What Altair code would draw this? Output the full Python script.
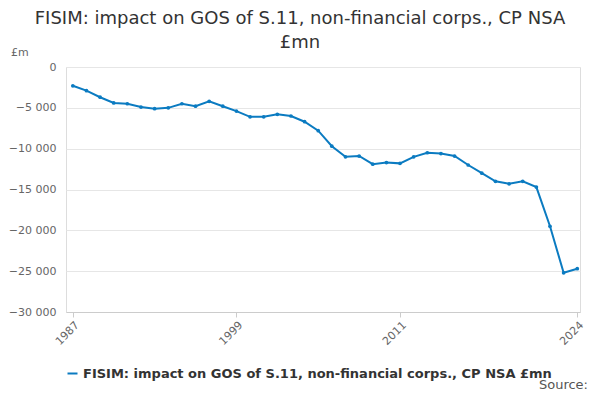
import altair as alt
import pandas as pd

years = list(range(1987, 2025))
values = [-2300, -2900, -3700, -4400, -4500, -4900, -5100, -5000, -4500, -4800,
          -4200, -4800, -5400, -6100, -6100, -5800, -6000, -6700, -7800, -9700,
          -11000, -10900, -11900, -11700, -11800, -11000, -10500, -10600, -10900, -12000,
          -13000, -14000, -14300, -14000, -14700, -19500, -25200, -24700]
series = "FISIM: impact on GOS of S.11, non-financial corps., CP NSA £mn"
title_lines = ["FISIM: impact on GOS of S.11, non-financial corps., CP NSA", "£mn"]
df = pd.DataFrame({"year": years, "value": values, "series": series})

base = alt.Chart(df)
line = base.mark_line(strokeWidth=2, point=alt.OverlayMarkDef(size=14, filled=True)).encode(
    x=alt.X("year:Q", scale=alt.Scale(domain=[1986.5, 2024.2], nice=False, zero=False),
            axis=alt.Axis(values=[1987, 1999, 2011, 2024], format="d", labelAngle=-45,
                          title=None, grid=False, tickColor="#ccc", domainColor="#ccc",
                          labelColor="#666", labelFontSize=11)),
    y=alt.Y("value:Q", scale=alt.Scale(domain=[-30000, 0]),
            axis=alt.Axis(values=[0, -5000, -10000, -15000, -20000, -25000, -30000],
                          labelExpr="replace(format(datum.value, ','), ',', ' ')",
                          title=None, domain=False, ticks=False,
                          gridColor="#e6e6e6", labelColor="#666", labelFontSize=11,
                          labelPadding=10)),
    color=alt.Color("series:N", scale=alt.Scale(range=["#0b7bc1"]),
                    legend=alt.Legend(title=None, orient="none", legendX=0, legendY=300,
                                      labelFontSize=13, labelFontWeight="bold",
                                      labelColor="#333", symbolType="stroke",
                                      symbolStrokeWidth=2, labelLimit=600)),
)
unit = alt.Chart(pd.DataFrame({"t": ["£m"]})).mark_text(
    align="left", fontSize=11, color="#666").encode(
    text="t:N", x=alt.value(-55), y=alt.value(-14))
src = alt.Chart(pd.DataFrame({"t": ["Source:"]})).mark_text(
    align="right", fontSize=13, color="#555").encode(
    text="t:N", x=alt.value(522), y=alt.value(318))
t1 = alt.Chart(pd.DataFrame({"t": [title_lines[0]]})).mark_text(
    align="center", fontSize=18, color="#333").encode(
    text="t:N", x=alt.value(234), y=alt.value(-48))
t2 = alt.Chart(pd.DataFrame({"t": [title_lines[1]]})).mark_text(
    align="center", fontSize=18, color="#333").encode(
    text="t:N", x=alt.value(234), y=alt.value(-24))

chart = alt.layer(line, unit, src, t1, t2).properties(
    width=514, height=245,
    autosize=alt.AutoSizeParams(type="none"),
    padding={"left": 58, "top": 59, "right": 12, "bottom": 80},
).configure_view(stroke=None).configure(font="DejaVu Sans")

chart.save("out.html", embed_options={"renderer": "svg", "actions": False})
